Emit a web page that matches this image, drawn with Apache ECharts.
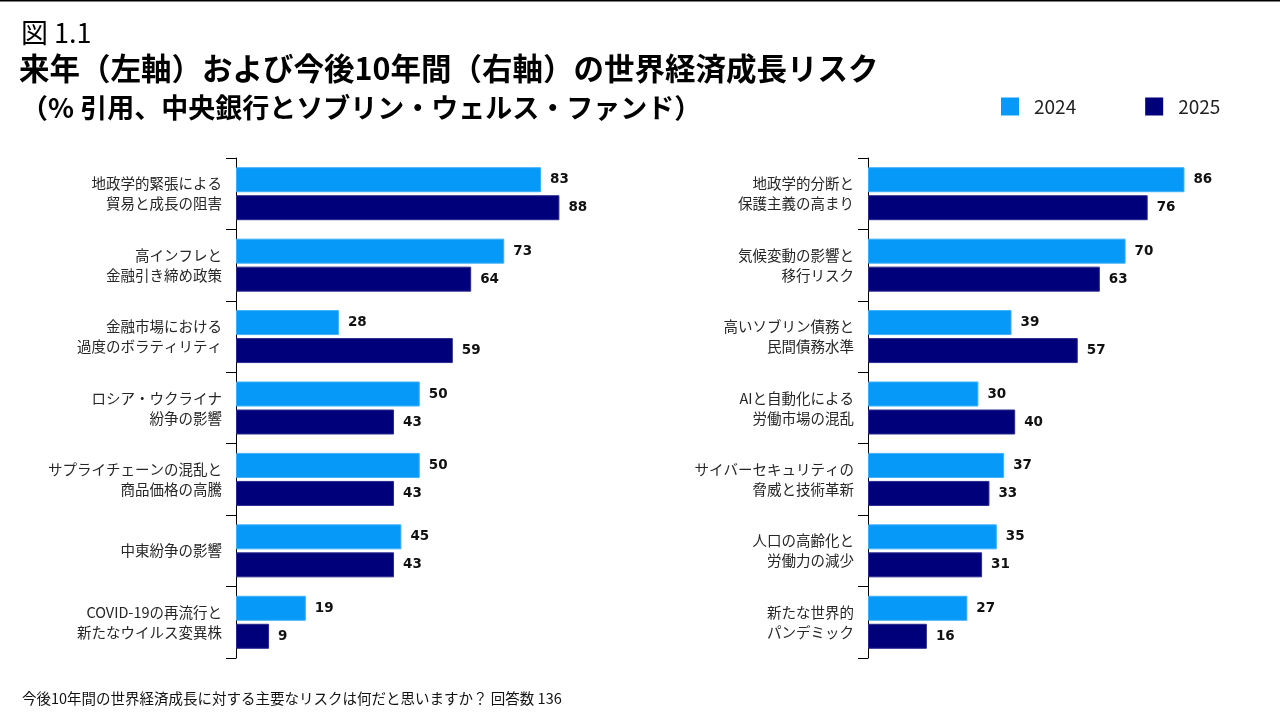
<!DOCTYPE html>
<html lang="ja">
<head>
    <meta charset="utf-8">
    <title>図 1.1 世界経済成長リスク</title>
    <script src="https://cdn.jsdelivr.net/npm/echarts@6/dist/echarts.min.js"></script>
    <style>
        html, body { margin: 0; padding: 0; background: #fff; }
        #main { width: 1280px; height: 720px; }
    </style>
</head>
<body>
<div id="main"></div>
<script type="text/javascript">
    // 来年（左軸）
    var leftCats = ['地政学的緊張による\n貿易と成長の阻害', '高インフレと\n金融引き締め政策', '金融市場における\n過度のボラティリティ',
        'ロシア・ウクライナ\n紛争の影響', 'サプライチェーンの混乱と\n商品価格の高騰', '中東紛争の影響', 'COVID-19の再流行と\n新たなウイルス変異株'];
    var left2024 = [83, 73, 28, 50, 50, 45, 19];
    var left2025 = [88, 64, 59, 43, 43, 43, 9];
    // 今後10年間（右軸）
    var rightCats = ['地政学的分断と\n保護主義の高まり', '気候変動の影響と\n移行リスク', '高いソブリン債務と\n民間債務水準',
        'AIと自動化による\n労働市場の混乱', 'サイバーセキュリティの\n脅威と技術革新', '人口の高齢化と\n労働力の減少', '新たな世界的\nパンデミック'];
    var right2024 = [86, 70, 39, 30, 37, 35, 27];
    var right2025 = [76, 63, 57, 40, 33, 31, 16];
    var years = ['2024', '2025'];

    var FONT = '"Noto Sans CJK JP", sans-serif';
    var c2024 = '#0699f7';
    var c2025 = '#00007a';

    var myChart = echarts.init(document.getElementById('main'));

    function yAx(idx, cats) {
        return {
            type: 'category', gridIndex: idx, data: cats, inverse: true,
            axisLine: { show: true, lineStyle: { color: '#000', width: 1 } },
            axisTick: { show: true, length: 10, lineStyle: { color: '#000' } },
            axisLabel: { fontFamily: FONT, fontSize: 14.5, color: '#262626', lineHeight: 20, margin: 14, align: 'right' }
        };
    }
    function xAx(idx) {
        return { type: 'value', gridIndex: idx, min: 0, max: 100, show: false };
    }
    function barSeries(name, idx, data, color, edge) {
        return {
            name: name, type: 'bar', xAxisIndex: idx, yAxisIndex: idx, data: data,
            barWidth: 25, barGap: '12%',
            itemStyle: { color: color, borderColor: edge, borderWidth: 1 },
            label: {
                show: true, position: 'right', distance: 9,
                fontFamily: '"DejaVu Sans", Verdana, sans-serif', fontWeight: 'bold', fontSize: 13.5, color: '#111'
            }
        };
    }

    var option = {
        animation: false,
        backgroundColor: '#fff',
        title: [
            { text: '図 1.1', left: 16, top: 14, textStyle: { fontFamily: FONT, fontSize: 27, fontWeight: 'normal', color: '#000' } },
            { text: '来年（左軸）および今後10年間（右軸）の世界経済成長リスク', left: 14, top: 48,
                textStyle: { fontFamily: FONT, fontSize: 30.5, fontWeight: 'bold', color: '#000' } },
            { text: '（% 引用、中央銀行とソブリン・ウェルス・ファンド）', left: 16, top: 89,
                textStyle: { fontFamily: FONT, fontSize: 27, fontWeight: 'bold', color: '#000' } },
            { text: '今後10年間の世界経済成長に対する主要なリスクは何だと思いますか？ 回答数 136', left: 17, top: 686,
                textStyle: { fontFamily: FONT, fontSize: 14.5, fontWeight: 'normal', color: '#111' } }
        ],
        legend: {
            data: years, left: 996, top: 92, itemWidth: 18, itemHeight: 18, itemGap: 69,
            icon: 'rect', itemStyle: { borderWidth: 0 },
            textStyle: { fontFamily: FONT, fontSize: 19, color: '#222', padding: [0, 0, 0, 10] }
        },
        graphic: [
            { type: 'line', shape: { x1: 0, y1: 0.5, x2: 1280, y2: 0.5 }, style: { stroke: '#000', lineWidth: 2 } }
        ],
        grid: [
            { left: 236, top: 158, width: 367.5, height: 500 },
            { left: 868, top: 158, width: 368, height: 500 }
        ],
        xAxis: [xAx(0), xAx(1)],
        yAxis: [yAx(0, leftCats), yAx(1, rightCats)],
        series: [
            barSeries(years[0], 0, left2024, c2024, '#3fb0f8'),
            barSeries(years[1], 0, left2025, c2025, '#2a2a8e'),
            barSeries(years[0], 1, right2024, c2024, '#3fb0f8'),
            barSeries(years[1], 1, right2025, c2025, '#2a2a8e')
        ]
    };
    myChart.setOption(option);
</script>
</body>
</html>
